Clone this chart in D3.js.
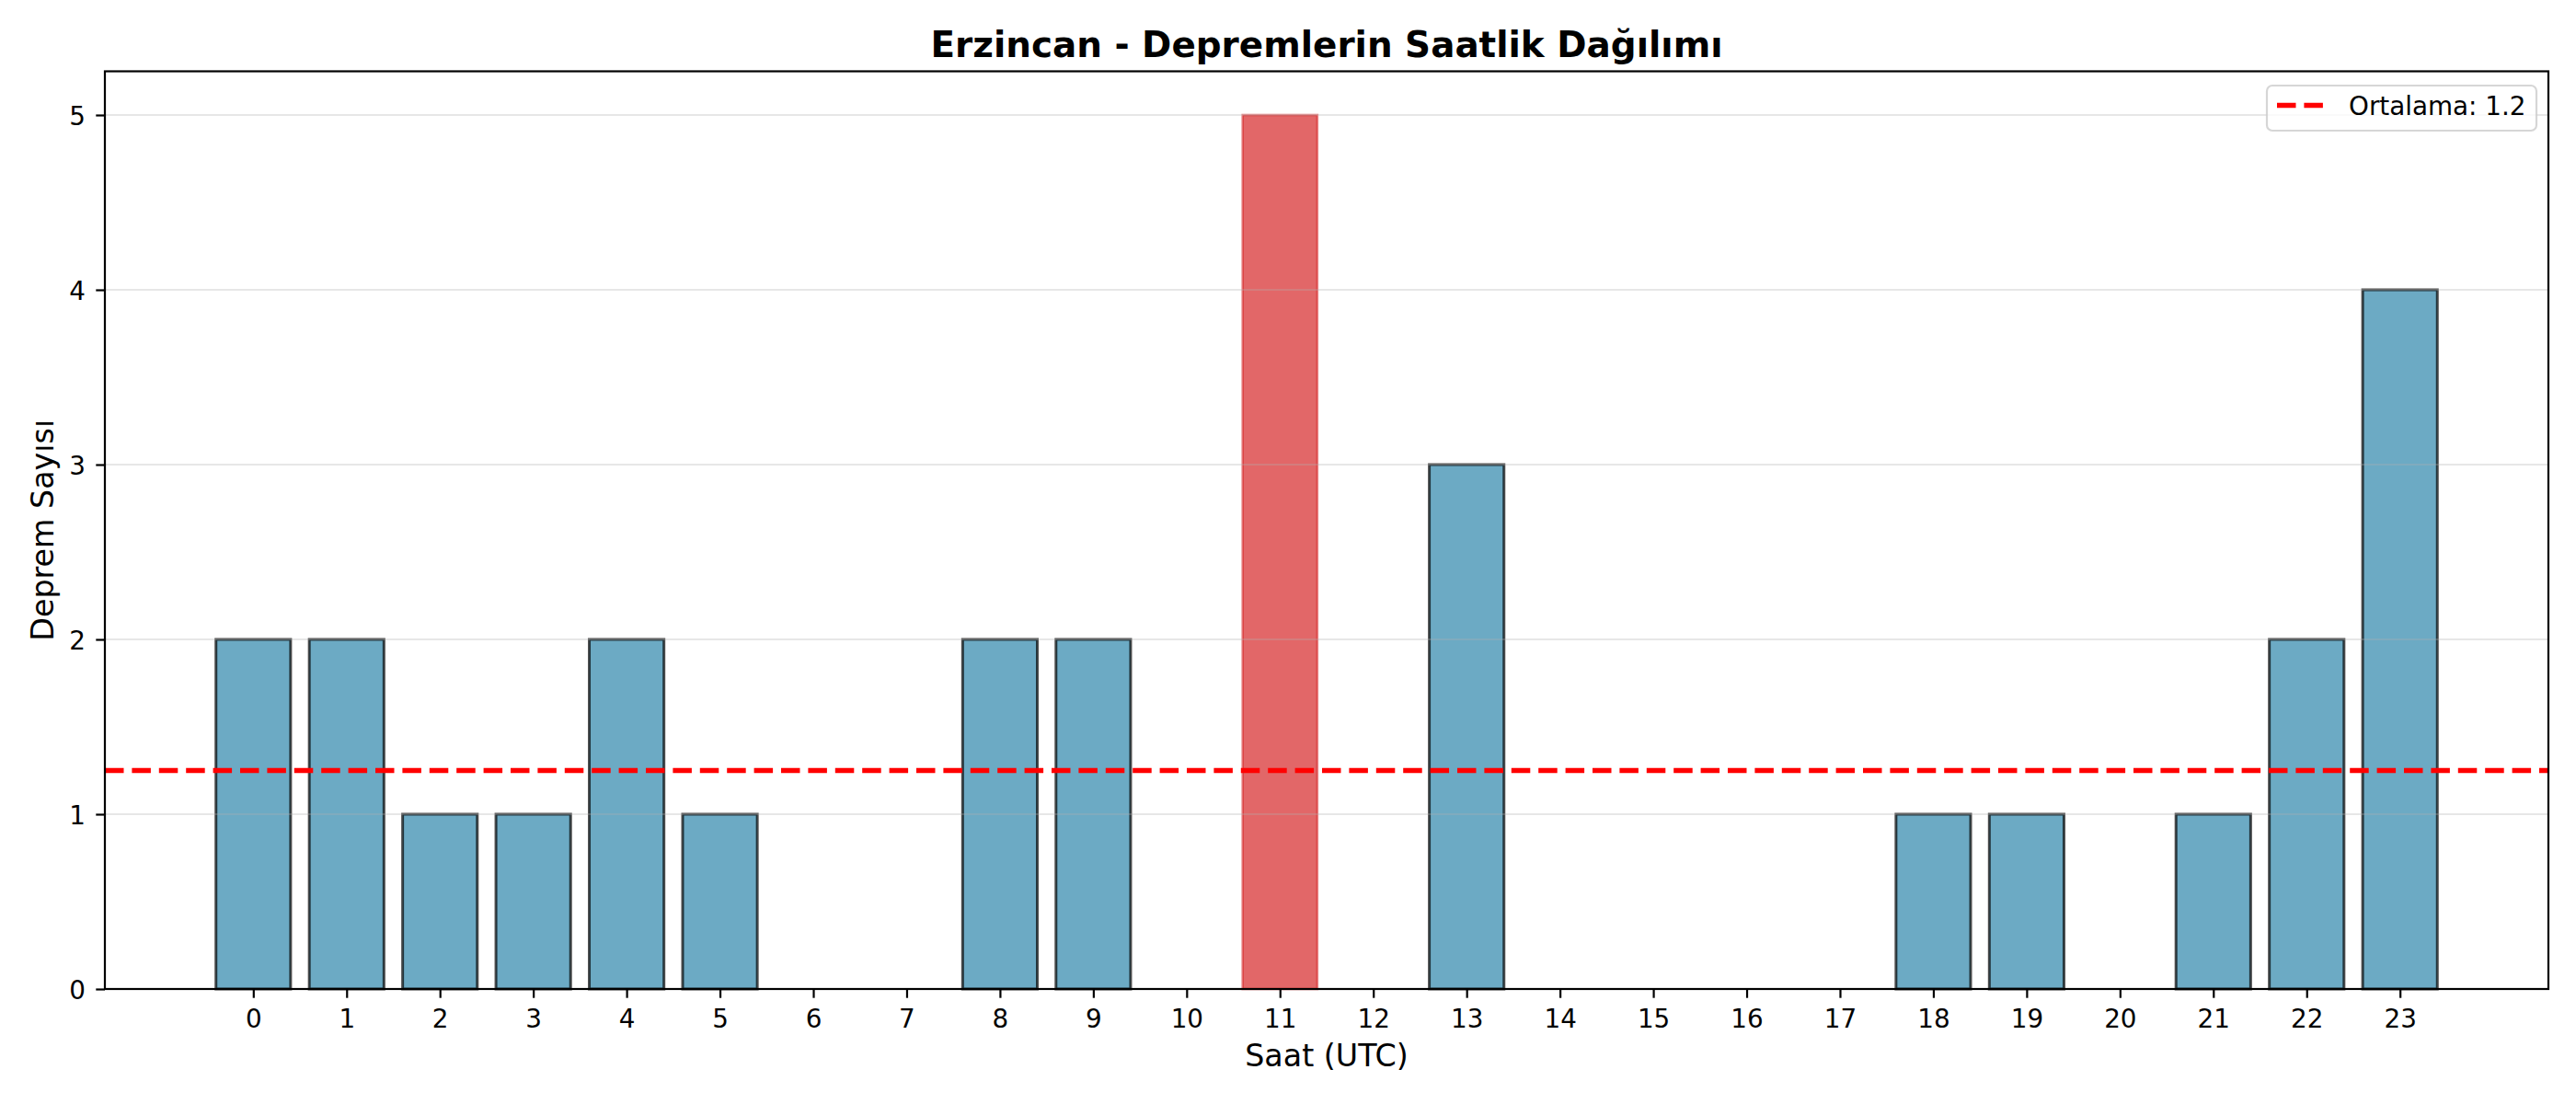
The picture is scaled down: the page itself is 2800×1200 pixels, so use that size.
<!DOCTYPE html>
<html>
<head>
<meta charset="utf-8">
<script src="https://cdn.jsdelivr.net/npm/d3@7"></script>
<style>
  body { margin: 0; background: #fff; }
  svg { display: block; font-family: "DejaVu Sans", sans-serif; }
</style>
</head>
<body>
<div id="chart"></div>
<script>
// Saat bazında deprem sayıları
const hours = [0, 1, 2, 3, 4, 5, 6, 7, 8, 9, 10, 11, 12, 13, 14, 15, 16, 17, 18, 19, 20, 21, 22, 23];
const counts = [2, 2, 1, 1, 2, 1, 0, 0, 2, 2, 0, 5, 0, 3, 0, 0, 0, 0, 1, 1, 0, 1, 2, 4];
const yTicks = [0, 1, 2, 3, 4, 5];
const titleText = "Erzincan - Depremlerin Saatlik Dağılımı";
const xLabel = "Saat (UTC)";
const yLabel = "Deprem Sayısı";
const meanLabel = "Ortalama: 1.2";

function drawChart() {
    const width = 2800;
    const height = 1200;
    const plot = { left: 114, right: 2770, top: 77.5, bottom: 1075 };

    const svg = d3.select('#chart')
        .append('svg')
        .attr('width', width)
        .attr('height', height);

    // Echelles (marge de 5 % comme matplotlib)
    const barW = 0.8;
    const span = (hours[hours.length - 1] + barW / 2) - (hours[0] - barW / 2);
    const x = d3.scaleLinear()
        .domain([hours[0] - barW / 2 - span * 0.05, hours[hours.length - 1] + barW / 2 + span * 0.05])
        .range([plot.left, plot.right]);

    const yMax = d3.max(counts) * 1.05;
    const y = d3.scaleLinear()
        .domain([0, yMax])
        .range([plot.bottom, plot.top]);

    const maxCount = d3.max(counts);
    const meanVal = d3.mean(counts);

    // Barres
    svg.append('g')
        .selectAll('rect')
        .data(hours.map((h, i) => ({ hour: h, count: counts[i] })))
        .enter()
        .append('rect')
        .attr('x', d => x(d.hour - barW / 2))
        .attr('width', d => x(d.hour + barW / 2) - x(d.hour - barW / 2))
        .attr('y', d => y(d.count))
        .attr('height', d => y(0) - y(d.count))
        .attr('fill', d => d.count === maxCount ? '#d62728' : '#2E86AB')
        .attr('fill-opacity', 0.7)
        .attr('stroke', d => d.count === maxCount ? '#d62728' : '#000')
        .attr('stroke-opacity', d => d.count === maxCount ? 0.55 : 0.7)
        .attr('stroke-width', d => d.count === maxCount ? 2.6 : 3)
        .style('display', d => d.count > 0 ? null : 'none');

    // Grille horizontale
    svg.append('g')
        .selectAll('line')
        .data(yTicks)
        .enter()
        .append('line')
        .attr('x1', plot.left)
        .attr('x2', plot.right)
        .attr('y1', d => y(d))
        .attr('y2', d => y(d))
        .attr('stroke', '#b0b0b0')
        .attr('stroke-opacity', 0.3)
        .attr('stroke-width', 2.2);

    // Ligne moyenne
    svg.append('line')
        .attr('x1', plot.left)
        .attr('x2', plot.right)
        .attr('y1', y(meanVal))
        .attr('y2', y(meanVal))
        .attr('stroke', '#ff0000')
        .attr('stroke-width', 5.5)
        .attr('stroke-dasharray', '20.5,8.9');

    // Axes
    const xAxis = d3.axisBottom(x)
        .tickValues(hours)
        .tickFormat(d3.format('d'))
        .tickSize(9.7)
        .tickPadding(12.5);

    const gx = svg.append('g')
        .attr('transform', `translate(0, ${plot.bottom})`)
        .call(xAxis);

    const yAxis = d3.axisLeft(y)
        .tickValues(yTicks)
        .tickFormat(d3.format('d'))
        .tickSize(9.7)
        .tickPadding(11.5);

    const gy = svg.append('g')
        .attr('transform', `translate(${plot.left}, 0)`)
        .call(yAxis);

    [gx, gy].forEach(g => {
        g.select('.domain').remove();
        g.selectAll('line').attr('stroke', '#000').attr('stroke-width', 2.2);
        g.selectAll('text')
            .attr('fill', '#000')
            .attr('font-size', '27.8px')
            .attr('font-family', '"DejaVu Sans", sans-serif');
    });
    gy.selectAll('text').attr('dy', '0.36em');

    // Cadre
    svg.append('rect')
        .attr('x', plot.left)
        .attr('y', plot.top)
        .attr('width', plot.right - plot.left)
        .attr('height', plot.bottom - plot.top)
        .attr('fill', 'none')
        .attr('stroke', '#000')
        .attr('stroke-width', 2.2);

    // Titre et étiquettes
    svg.append('text')
        .attr('x', (plot.left + plot.right) / 2)
        .attr('y', 62)
        .attr('text-anchor', 'middle')
        .attr('font-size', '38.9px')
        .attr('font-weight', 'bold')
        .text(titleText);

    svg.append('text')
        .attr('x', (plot.left + plot.right) / 2)
        .attr('y', 1159)
        .attr('text-anchor', 'middle')
        .attr('font-size', '33.3px')
        .text(xLabel);

    svg.append('text')
        .attr('transform', `translate(58, ${(plot.top + plot.bottom) / 2}) rotate(-90)`)
        .attr('text-anchor', 'middle')
        .attr('font-size', '33.3px')
        .text(yLabel);

    // Légende
    const legend = svg.append('g')
        .attr('transform', 'translate(2464, 93)');

    legend.append('rect')
        .attr('width', 293)
        .attr('height', 49)
        .attr('rx', 6)
        .attr('fill', '#fff')
        .attr('fill-opacity', 0.8)
        .attr('stroke', '#cccccc')
        .attr('stroke-opacity', 0.8)
        .attr('stroke-width', 2.2);

    legend.append('line')
        .attr('x1', 11)
        .attr('x2', 61)
        .attr('y1', 21.5)
        .attr('y2', 21.5)
        .attr('stroke', '#ff0000')
        .attr('stroke-width', 5.5)
        .attr('stroke-dasharray', '20.5,8.9');

    legend.append('text')
        .attr('x', 89)
        .attr('y', 32)
        .attr('font-size', '27.8px')
        .text(meanLabel);
}

document.addEventListener('DOMContentLoaded', function() {
    drawChart();
});
</script>
</body>
</html>
